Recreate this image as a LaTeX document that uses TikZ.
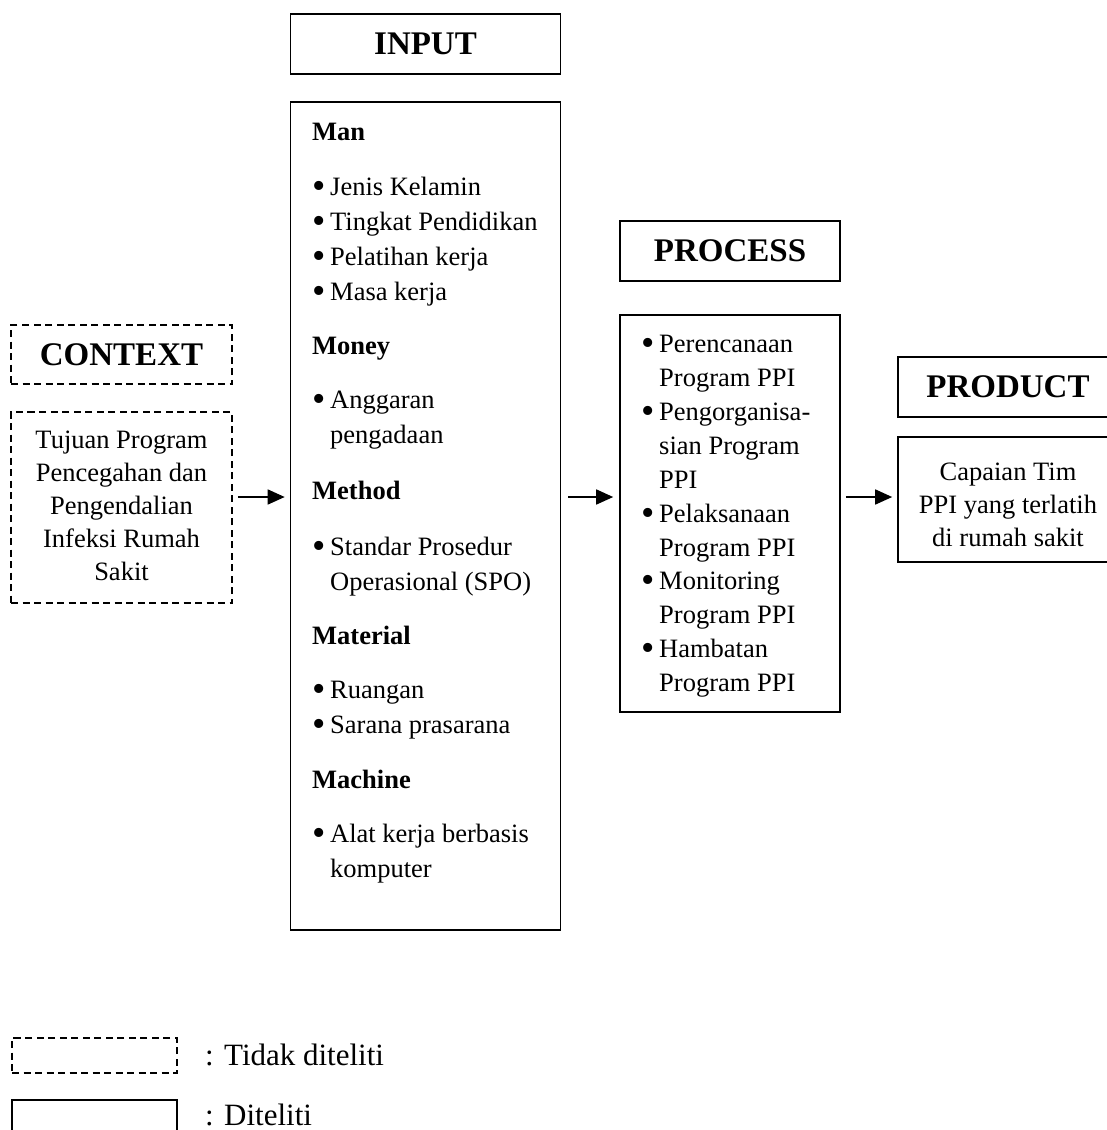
\documentclass[tikz,border=0pt]{standalone}
\usepackage{fontspec}
\setmainfont{Liberation Serif}
\usetikzlibrary{arrows.meta}
\tikzset{
  box/.style={draw, line width=1.6pt, inner sep=0pt},
  dbox/.style={box, dash pattern=on 7pt off 4.5pt},
  head/.style={font=\fontsize{33}{38}\selectfont\bfseries},
  body/.style={inner sep=0pt, font=\fontsize{26.5}{32}\selectfont},
  sub/.style={body, font=\fontsize{26.5}{32}\selectfont\bfseries},
  leg/.style={inner sep=0pt, font=\fontsize{31}{36}\selectfont},
  arr/.style={line width=1.6pt, -{Triangle[length=17pt,width=15pt]}}
}
\newcommand{\bul}{\llap{\raisebox{-3.5pt}{\fontsize{38}{38}\selectfont\textbullet}\hspace{4pt}}}
\begin{document}
\begin{tikzpicture}[x=1pt,y=-1pt]
\useasboundingbox (0,0) rectangle (1107,1130);
\clip (0,0) rectangle (1107,1130);
% INPUT
\node[box, minimum width=270pt, minimum height=60pt, head] (inh) at (425.5,44) {INPUT};
\node[box, minimum width=270pt, minimum height=828pt] (inb) at (425.5,516) {};
% CONTEXT
\node[dbox, minimum width=221pt, minimum height=59pt, head] (cth) at (121.5,354.5) {CONTEXT};
\node[dbox, minimum width=221pt, minimum height=191pt] (ctb) at (121.5,507.5) {};
% PROCESS
\node[box, minimum width=220pt, minimum height=60pt, head] (prh) at (730,251) {PROCESS};
\node[box, minimum width=220pt, minimum height=397pt] (prb) at (730,513.5) {};
% PRODUCT
\node[box, minimum width=220pt, minimum height=60pt, head] (pdh) at (1008,387) {PRODUCT};
\node[box, minimum width=220pt, minimum height=125pt] (pdb) at (1008,499.5) {};

% context text
\foreach \t/\y [count=\i] in {Tujuan Program/448, Pencegahan dan/481, Pengendalian/514, Infeksi Rumah/547, Sakit/580}
  \node[body, anchor=base] (ct\i) at (121.5,\y) {\t};
% product text
\foreach \t/\y [count=\i] in {Capaian Tim/480, PPI yang terlatih/513, di rumah sakit/546}
  \node[body, anchor=base] (pd\i) at (1008,\y) {\t};

% input headings
\foreach \t/\y [count=\i] in {Man/140, Money/354, Method/499, Material/644, Machine/788}
  \node[sub, anchor=base west] (ih\i) at (312,\y) {\t};
% input bullet lines
\foreach \t/\y [count=\i] in {Jenis Kelamin/195, Tingkat Pendidikan/230, Pelatihan kerja/265, Masa kerja/300, Anggaran/408, Standar Prosedur/555, Ruangan/698, Sarana prasarana/733, Alat kerja berbasis/842}
  \node[body, anchor=base west] (ib\i) at (330,\y) {\bul\t};
% input continuation lines
\foreach \t/\y [count=\i] in {pengadaan/443, Operasional (SPO)/590, komputer/877}
  \node[body, anchor=base west] (ic\i) at (330,\y) {\t};

% process lines
\foreach \t/\y [count=\i] in {Perencanaan/352, Pengorganisa-/420, Pelaksanaan/522, Monitoring/589, Hambatan/657}
  \node[body, anchor=base west] (pb\i) at (659,\y) {\bul\t};
\foreach \t/\y [count=\i] in {Program PPI/386, sian Program/454, PPI/488, Program PPI/556, Program PPI/623, Program PPI/691}
  \node[body, anchor=base west] (pc\i) at (659,\y) {\t};

% arrows
\coordinate (ay) at (0,497);
\draw[arr, shorten <=5pt, shorten >=5pt] (ctb.east |- ay) -- (inb.west |- ay);
\draw[arr, shorten <=7pt, shorten >=6pt] (inb.east |- ay) -- (prb.west |- ay);
\draw[arr, shorten <=5pt, shorten >=5pt] (prb.east |- ay) -- (pdb.west |- ay);

% legend
\node[dbox, minimum width=165pt, minimum height=35pt] (lg1) at (94.5,1055.5) {};
\node[box, minimum width=165pt, minimum height=40pt] (lg2) at (94.5,1120) {};
\node[leg, anchor=base west] (lt1) at (205,1065) {: Tidak diteliti};
\node[leg, anchor=base west] (lt2) at (205,1125) {: Diteliti};
\end{tikzpicture}
\end{document}
